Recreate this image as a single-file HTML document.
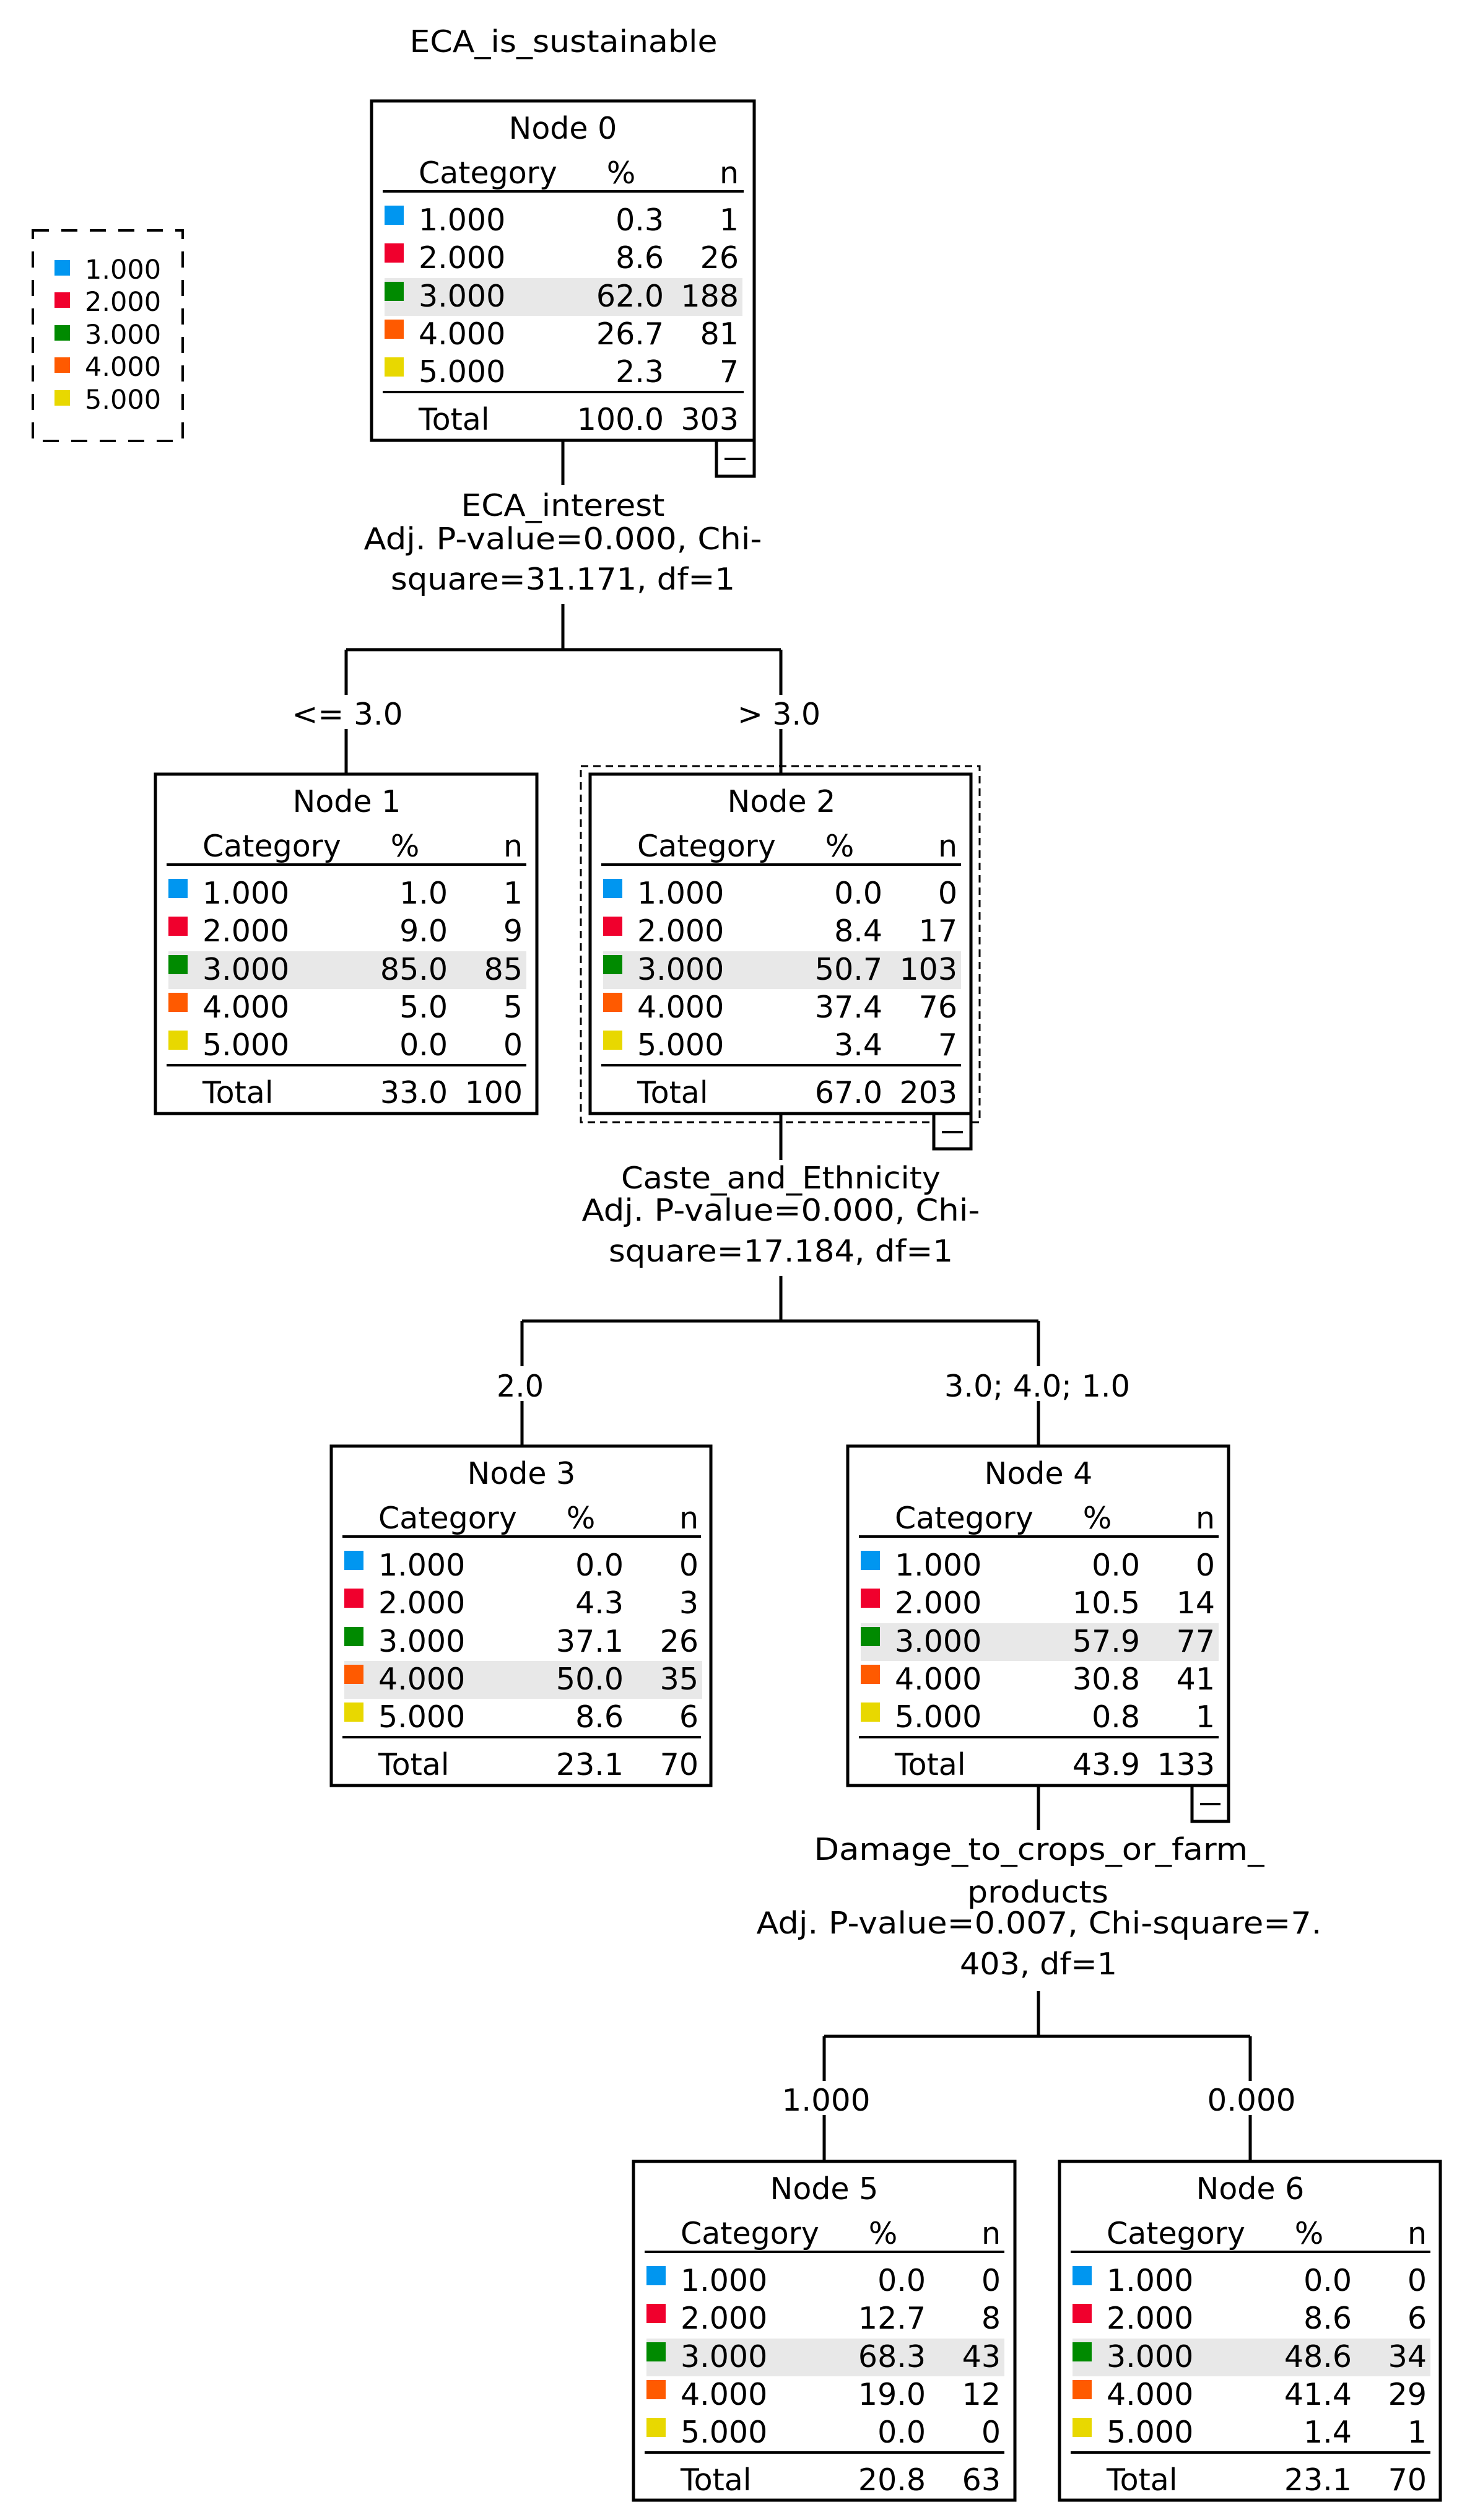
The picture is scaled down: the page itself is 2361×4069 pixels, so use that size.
<!DOCTYPE html>
<html><head><meta charset="utf-8"><style>
html,body{margin:0;padding:0;background:#fff}
svg{display:block}
text{font-family:"DejaVu Sans","Liberation Sans",sans-serif;font-size:49px;fill:#000}
.m{text-anchor:middle}.e{text-anchor:end}
.lg text{font-size:43px}
</style></head><body>
<svg width="2361" height="4069" viewBox="0 0 2361 4069" xmlns="http://www.w3.org/2000/svg">
<defs>
<g id="sw">
</g>
</defs>
<text x="910" y="84" class="m" textLength="497" lengthAdjust="spacingAndGlyphs">ECA_is_sustainable</text>

<!-- legend -->
<g class="lg">
<rect x="53" y="372" width="242" height="340" fill="none" stroke="#000" stroke-width="4" stroke-dasharray="26 20"/>
<rect x="88" y="420" width="25" height="25" fill="#0096f0"/><text x="137" y="450">1.000</text>
<rect x="88" y="472" width="25" height="25" fill="#f0002d"/><text x="137" y="502">2.000</text>
<rect x="88" y="525" width="25" height="25" fill="#008a00"/><text x="137" y="555">3.000</text>
<rect x="88" y="577" width="25" height="25" fill="#ff5a00"/><text x="137" y="607">4.000</text>
<rect x="88" y="630" width="25" height="25" fill="#e8d800"/><text x="137" y="660">5.000</text>
</g>

<!-- connectors -->
<g stroke="#000" stroke-width="5" fill="none">
<path d="M909 711V783M909 975V1049M559 1049H1261M559 1049V1122M559 1177V1250M1261 1049V1122M1261 1177V1250"/>
<path d="M1261 1798V1873M1261 2060V2133M843 2133H1677M843 2133V2206M843 2262V2335M1677 2133V2206M1677 2262V2335"/>
<path d="M1677 2883V2955M1677 3215V3288M1331 3288H2019M1331 3288V3360M1331 3415V3490M2019 3288V3360M2019 3415V3490"/>
</g>
<text x="909" y="833" class="m" textLength="329" lengthAdjust="spacingAndGlyphs">ECA_interest</text>
<text x="909" y="887" class="m" textLength="643" lengthAdjust="spacingAndGlyphs">Adj. P-value=0.000, Chi-</text>
<text x="909" y="952" class="m" textLength="556" lengthAdjust="spacingAndGlyphs">square=31.171, df=1</text>
<text x="561" y="1170" class="m" textLength="179" lengthAdjust="spacingAndGlyphs">&lt;= 3.0</text>
<text x="1258" y="1170" class="m" textLength="134" lengthAdjust="spacingAndGlyphs">&gt; 3.0</text>

<text x="1261" y="1919" class="m" textLength="516" lengthAdjust="spacingAndGlyphs">Caste_and_Ethnicity</text>
<text x="1261" y="1971" class="m" textLength="643" lengthAdjust="spacingAndGlyphs">Adj. P-value=0.000, Chi-</text>
<text x="1261" y="2037" class="m" textLength="556" lengthAdjust="spacingAndGlyphs">square=17.184, df=1</text>
<text x="840" y="2255" class="m" textLength="76" lengthAdjust="spacingAndGlyphs">2.0</text>
<text x="1675" y="2255" class="m" textLength="300" lengthAdjust="spacingAndGlyphs">3.0; 4.0; 1.0</text>

<text x="1678" y="3003" class="m" textLength="727" lengthAdjust="spacingAndGlyphs">Damage_to_crops_or_farm_</text>
<text x="1676" y="3072" class="m" textLength="228" lengthAdjust="spacingAndGlyphs">products</text>
<text x="1678" y="3122" class="m" textLength="913" lengthAdjust="spacingAndGlyphs">Adj. P-value=0.007, Chi-square=7.</text>
<text x="1677" y="3188" class="m" textLength="254" lengthAdjust="spacingAndGlyphs">403, df=1</text>
<text x="1334" y="3408" class="m" textLength="143" lengthAdjust="spacingAndGlyphs">1.000</text>
<text x="2021" y="3408" class="m" textLength="143" lengthAdjust="spacingAndGlyphs">0.000</text>

<!-- node2 dashed selection -->
<rect x="938" y="1237" width="644" height="575" fill="none" stroke="#000" stroke-width="3" stroke-dasharray="12 8"/>

<!-- tabs -->
<g stroke="#000" stroke-width="5" fill="#fff">
<rect x="1157" y="711" width="61" height="58"/>
<rect x="1508" y="1798" width="60" height="57"/>
<rect x="1925" y="2883" width="59" height="58"/>
</g>
<g stroke="#000" stroke-width="4">
<path d="M1170 741H1204M1521 1828H1555M1938 2913H1971"/>
</g>

<!-- Node 0 -->
<g transform="translate(600,163)">
<rect x="21" y="286" width="578" height="61" fill="#e8e8e8"/>
<rect x="0" y="0" width="618" height="548" fill="none" stroke="#000" stroke-width="5"/>
<text x="309" y="61" class="m">Node 0</text>
<text x="76" y="133">Category</text><text x="403" y="133" class="m">%</text><text x="593" y="133" class="e">n</text>
<path d="M18 146H601M18 470H601" stroke="#000" stroke-width="4"/>
<rect x="21" y="169" width="31" height="31" fill="#0096f0"/><text x="76" y="209">1.000</text><text x="472" y="209" class="e">0.3</text><text x="593" y="209" class="e">1</text>
<rect x="21" y="230" width="31" height="31" fill="#f0002d"/><text x="76" y="270">2.000</text><text x="472" y="270" class="e">8.6</text><text x="593" y="270" class="e">26</text>
<rect x="21" y="292" width="31" height="31" fill="#008a00"/><text x="76" y="332">3.000</text><text x="472" y="332" class="e">62.0</text><text x="593" y="332" class="e">188</text>
<rect x="21" y="353" width="31" height="31" fill="#ff5a00"/><text x="76" y="393">4.000</text><text x="472" y="393" class="e">26.7</text><text x="593" y="393" class="e">81</text>
<rect x="21" y="414" width="31" height="31" fill="#e8d800"/><text x="76" y="454">5.000</text><text x="472" y="454" class="e">2.3</text><text x="593" y="454" class="e">7</text>
<text x="76" y="531">Total</text><text x="472" y="531" class="e">100.0</text><text x="593" y="531" class="e">303</text>
</g>

<!-- Node 1 -->
<g transform="translate(251,1250)">
<rect x="21" y="286" width="578" height="61" fill="#e8e8e8"/>
<rect x="0" y="0" width="616" height="548" fill="none" stroke="#000" stroke-width="5"/>
<text x="309" y="61" class="m">Node 1</text>
<text x="76" y="133">Category</text><text x="403" y="133" class="m">%</text><text x="593" y="133" class="e">n</text>
<path d="M18 146H599M18 470H599" stroke="#000" stroke-width="4"/>
<rect x="21" y="169" width="31" height="31" fill="#0096f0"/><text x="76" y="209">1.000</text><text x="472" y="209" class="e">1.0</text><text x="593" y="209" class="e">1</text>
<rect x="21" y="230" width="31" height="31" fill="#f0002d"/><text x="76" y="270">2.000</text><text x="472" y="270" class="e">9.0</text><text x="593" y="270" class="e">9</text>
<rect x="21" y="292" width="31" height="31" fill="#008a00"/><text x="76" y="332">3.000</text><text x="472" y="332" class="e">85.0</text><text x="593" y="332" class="e">85</text>
<rect x="21" y="353" width="31" height="31" fill="#ff5a00"/><text x="76" y="393">4.000</text><text x="472" y="393" class="e">5.0</text><text x="593" y="393" class="e">5</text>
<rect x="21" y="414" width="31" height="31" fill="#e8d800"/><text x="76" y="454">5.000</text><text x="472" y="454" class="e">0.0</text><text x="593" y="454" class="e">0</text>
<text x="76" y="531">Total</text><text x="472" y="531" class="e">33.0</text><text x="593" y="531" class="e">100</text>
</g>

<!-- Node 2 -->
<g transform="translate(953,1250)">
<rect x="21" y="286" width="578" height="61" fill="#e8e8e8"/>
<rect x="0" y="0" width="615" height="548" fill="none" stroke="#000" stroke-width="5"/>
<text x="309" y="61" class="m">Node 2</text>
<text x="76" y="133">Category</text><text x="403" y="133" class="m">%</text><text x="593" y="133" class="e">n</text>
<path d="M18 146H599M18 470H599" stroke="#000" stroke-width="4"/>
<rect x="21" y="169" width="31" height="31" fill="#0096f0"/><text x="76" y="209">1.000</text><text x="472" y="209" class="e">0.0</text><text x="593" y="209" class="e">0</text>
<rect x="21" y="230" width="31" height="31" fill="#f0002d"/><text x="76" y="270">2.000</text><text x="472" y="270" class="e">8.4</text><text x="593" y="270" class="e">17</text>
<rect x="21" y="292" width="31" height="31" fill="#008a00"/><text x="76" y="332">3.000</text><text x="472" y="332" class="e">50.7</text><text x="593" y="332" class="e">103</text>
<rect x="21" y="353" width="31" height="31" fill="#ff5a00"/><text x="76" y="393">4.000</text><text x="472" y="393" class="e">37.4</text><text x="593" y="393" class="e">76</text>
<rect x="21" y="414" width="31" height="31" fill="#e8d800"/><text x="76" y="454">5.000</text><text x="472" y="454" class="e">3.4</text><text x="593" y="454" class="e">7</text>
<text x="76" y="531">Total</text><text x="472" y="531" class="e">67.0</text><text x="593" y="531" class="e">203</text>
</g>

<!-- Node 3 -->
<g transform="translate(535,2335)">
<rect x="21" y="347" width="578" height="61" fill="#e8e8e8"/>
<rect x="0" y="0" width="613" height="548" fill="none" stroke="#000" stroke-width="5"/>
<text x="307" y="61" class="m">Node 3</text>
<text x="76" y="133">Category</text><text x="403" y="133" class="m">%</text><text x="593" y="133" class="e">n</text>
<path d="M18 146H597M18 470H597" stroke="#000" stroke-width="4"/>
<rect x="21" y="169" width="31" height="31" fill="#0096f0"/><text x="76" y="209">1.000</text><text x="472" y="209" class="e">0.0</text><text x="593" y="209" class="e">0</text>
<rect x="21" y="230" width="31" height="31" fill="#f0002d"/><text x="76" y="270">2.000</text><text x="472" y="270" class="e">4.3</text><text x="593" y="270" class="e">3</text>
<rect x="21" y="292" width="31" height="31" fill="#008a00"/><text x="76" y="332">3.000</text><text x="472" y="332" class="e">37.1</text><text x="593" y="332" class="e">26</text>
<rect x="21" y="353" width="31" height="31" fill="#ff5a00"/><text x="76" y="393">4.000</text><text x="472" y="393" class="e">50.0</text><text x="593" y="393" class="e">35</text>
<rect x="21" y="414" width="31" height="31" fill="#e8d800"/><text x="76" y="454">5.000</text><text x="472" y="454" class="e">8.6</text><text x="593" y="454" class="e">6</text>
<text x="76" y="531">Total</text><text x="472" y="531" class="e">23.1</text><text x="593" y="531" class="e">70</text>
</g>

<!-- Node 4 -->
<g transform="translate(1369,2335)">
<rect x="21" y="286" width="578" height="61" fill="#e8e8e8"/>
<rect x="0" y="0" width="615" height="548" fill="none" stroke="#000" stroke-width="5"/>
<text x="308" y="61" class="m">Node 4</text>
<text x="76" y="133">Category</text><text x="403" y="133" class="m">%</text><text x="593" y="133" class="e">n</text>
<path d="M18 146H599M18 470H599" stroke="#000" stroke-width="4"/>
<rect x="21" y="169" width="31" height="31" fill="#0096f0"/><text x="76" y="209">1.000</text><text x="472" y="209" class="e">0.0</text><text x="593" y="209" class="e">0</text>
<rect x="21" y="230" width="31" height="31" fill="#f0002d"/><text x="76" y="270">2.000</text><text x="472" y="270" class="e">10.5</text><text x="593" y="270" class="e">14</text>
<rect x="21" y="292" width="31" height="31" fill="#008a00"/><text x="76" y="332">3.000</text><text x="472" y="332" class="e">57.9</text><text x="593" y="332" class="e">77</text>
<rect x="21" y="353" width="31" height="31" fill="#ff5a00"/><text x="76" y="393">4.000</text><text x="472" y="393" class="e">30.8</text><text x="593" y="393" class="e">41</text>
<rect x="21" y="414" width="31" height="31" fill="#e8d800"/><text x="76" y="454">5.000</text><text x="472" y="454" class="e">0.8</text><text x="593" y="454" class="e">1</text>
<text x="76" y="531">Total</text><text x="472" y="531" class="e">43.9</text><text x="593" y="531" class="e">133</text>
</g>

<!-- Node 5 -->
<g transform="translate(1023,3490)">
<rect x="21" y="286" width="578" height="61" fill="#e8e8e8"/>
<rect x="0" y="0" width="616" height="547" fill="none" stroke="#000" stroke-width="5"/>
<text x="308" y="61" class="m">Node 5</text>
<text x="76" y="133">Category</text><text x="403" y="133" class="m">%</text><text x="593" y="133" class="e">n</text>
<path d="M18 146H599M18 470H599" stroke="#000" stroke-width="4"/>
<rect x="21" y="169" width="31" height="31" fill="#0096f0"/><text x="76" y="209">1.000</text><text x="472" y="209" class="e">0.0</text><text x="593" y="209" class="e">0</text>
<rect x="21" y="230" width="31" height="31" fill="#f0002d"/><text x="76" y="270">2.000</text><text x="472" y="270" class="e">12.7</text><text x="593" y="270" class="e">8</text>
<rect x="21" y="292" width="31" height="31" fill="#008a00"/><text x="76" y="332">3.000</text><text x="472" y="332" class="e">68.3</text><text x="593" y="332" class="e">43</text>
<rect x="21" y="353" width="31" height="31" fill="#ff5a00"/><text x="76" y="393">4.000</text><text x="472" y="393" class="e">19.0</text><text x="593" y="393" class="e">12</text>
<rect x="21" y="414" width="31" height="31" fill="#e8d800"/><text x="76" y="454">5.000</text><text x="472" y="454" class="e">0.0</text><text x="593" y="454" class="e">0</text>
<text x="76" y="531">Total</text><text x="472" y="531" class="e">20.8</text><text x="593" y="531" class="e">63</text>
</g>

<!-- Node 6 -->
<g transform="translate(1711,3490)">
<rect x="21" y="286" width="578" height="61" fill="#e8e8e8"/>
<rect x="0" y="0" width="615" height="547" fill="none" stroke="#000" stroke-width="5"/>
<text x="308" y="61" class="m">Node 6</text>
<text x="76" y="133">Category</text><text x="403" y="133" class="m">%</text><text x="593" y="133" class="e">n</text>
<path d="M18 146H599M18 470H599" stroke="#000" stroke-width="4"/>
<rect x="21" y="169" width="31" height="31" fill="#0096f0"/><text x="76" y="209">1.000</text><text x="472" y="209" class="e">0.0</text><text x="593" y="209" class="e">0</text>
<rect x="21" y="230" width="31" height="31" fill="#f0002d"/><text x="76" y="270">2.000</text><text x="472" y="270" class="e">8.6</text><text x="593" y="270" class="e">6</text>
<rect x="21" y="292" width="31" height="31" fill="#008a00"/><text x="76" y="332">3.000</text><text x="472" y="332" class="e">48.6</text><text x="593" y="332" class="e">34</text>
<rect x="21" y="353" width="31" height="31" fill="#ff5a00"/><text x="76" y="393">4.000</text><text x="472" y="393" class="e">41.4</text><text x="593" y="393" class="e">29</text>
<rect x="21" y="414" width="31" height="31" fill="#e8d800"/><text x="76" y="454">5.000</text><text x="472" y="454" class="e">1.4</text><text x="593" y="454" class="e">1</text>
<text x="76" y="531">Total</text><text x="472" y="531" class="e">23.1</text><text x="593" y="531" class="e">70</text>
</g>
</svg>
</body></html>
